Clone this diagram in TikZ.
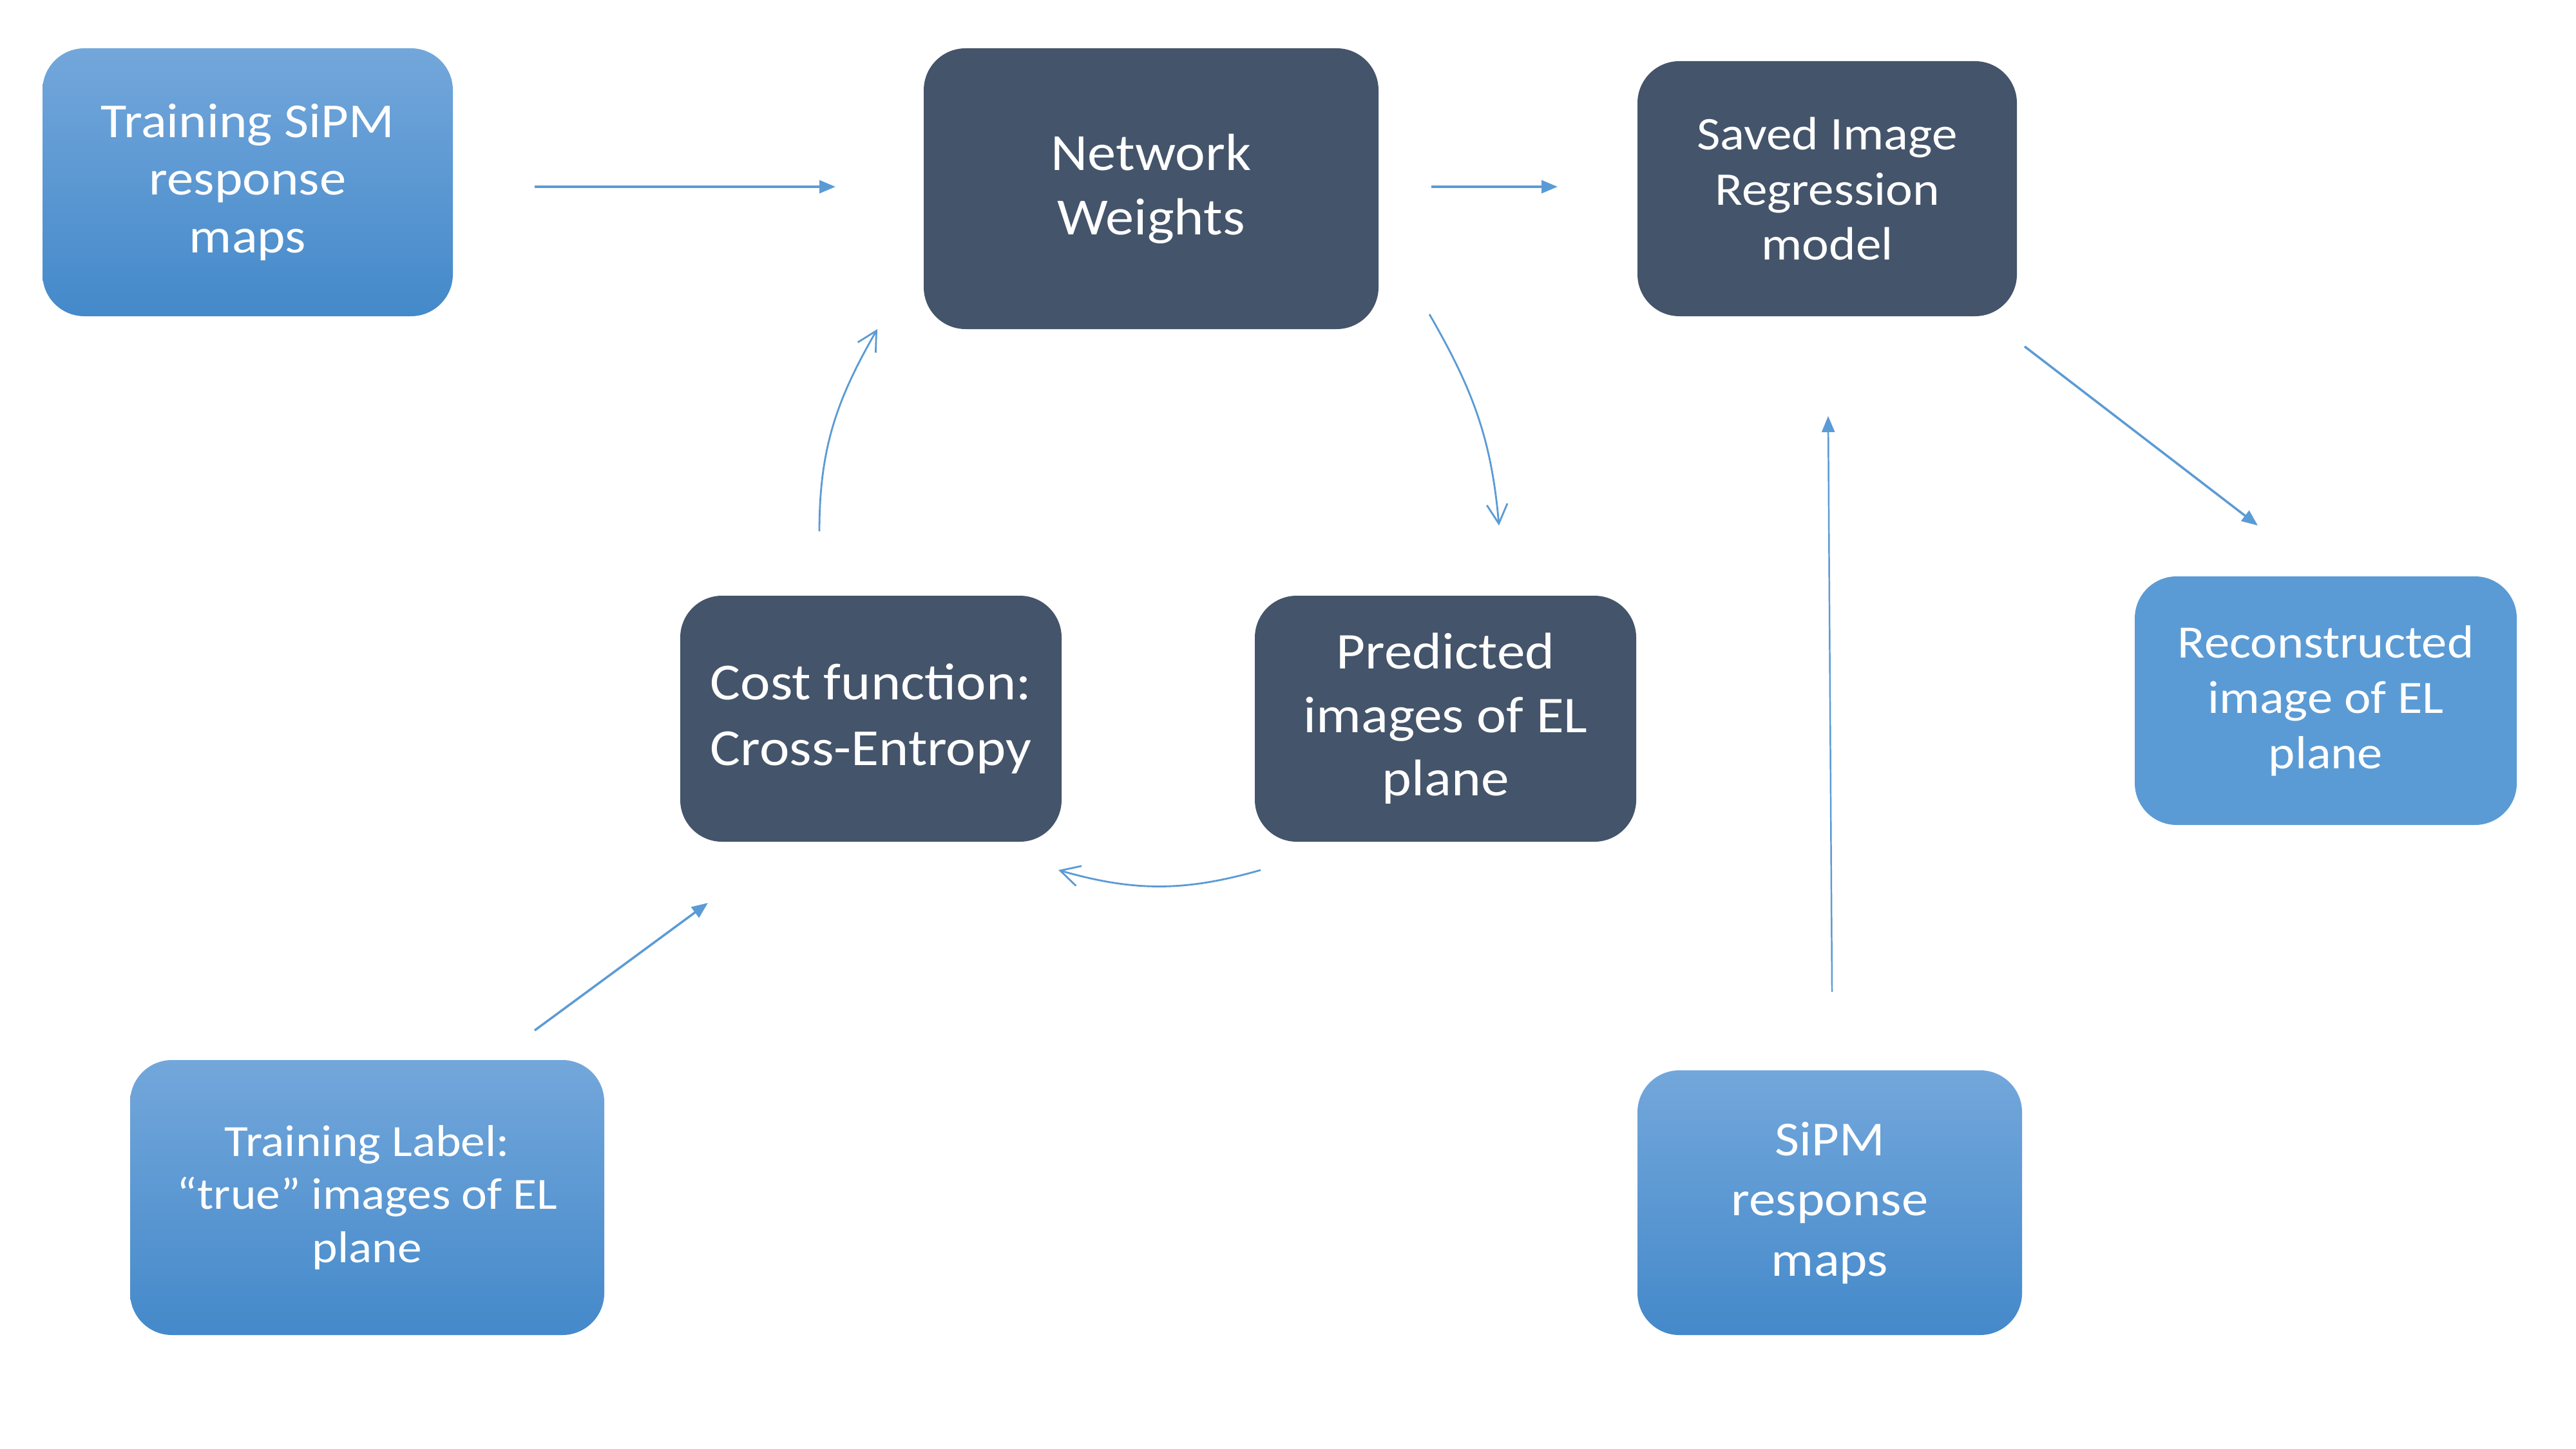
\documentclass[tikz,border=0pt]{standalone}
\usepackage{fontspec}
\setmainfont{Carlito}[FakeStretch=1.09]
\usepackage{tikz}
\usetikzlibrary{arrows.meta,positioning,calc}

\definecolor{darkslate}{RGB}{68,84,106}
\definecolor{accentblue}{RGB}{91,155,213}
\definecolor{gradtop}{RGB}{115,167,219}
\definecolor{gradbottom}{RGB}{68,137,202}

\begin{document}
\begin{tikzpicture}[
                darkbox/.style={rectangle, rounded corners=0.65cm, fill=darkslate, text=white, align=center},
                lightbox/.style={rectangle, rounded corners=0.65cm, top color=gradtop, bottom color=gradbottom, text=white, align=center},
                flatbox/.style={rectangle, rounded corners=0.65cm, fill=accentblue, text=white, align=center},
                flow/.style={draw=accentblue, line width=1pt, -{Triangle[length=0.25cm, width=0.2cm]}},
                loopflow/.style={draw=accentblue, line width=0.8pt, -{Straight Barb[length=0.3cm, width=0.32cm]}},
            ]
            \fill[white] (0,0) rectangle (39.99,-22.49);
            \useasboundingbox (0,0) rectangle (39.99,-22.49);

            %Nodes
            \node[lightbox, minimum width=6.37cm, minimum height=4.16cm, font={\fontsize{21.6pt}{25.6pt}\selectfont}] (trainmaps)  at (3.845,-2.83)  {Training SiPM\\response\\maps};
            \node[darkbox,  minimum width=7.06cm, minimum height=4.36cm, font={\fontsize{23.1pt}{28.5pt}\selectfont}] (weights)    at (17.87,-2.93)  {Network\\Weights};
            \node[darkbox,  minimum width=5.89cm, minimum height=3.96cm, font={\fontsize{20.7pt}{24.2pt}\selectfont}] (savedmodel) at (28.365,-2.93) {Saved Image\\Regression\\model};
            \node[darkbox,  minimum width=5.92cm, minimum height=3.82cm, font={\fontsize{23pt}{29pt}\selectfont}]     (costfn)     at (13.52,-11.16) {Cost function:\\Cross-Entropy};
            \node[darkbox,  minimum width=5.92cm, minimum height=3.82cm, font={\fontsize{22.8pt}{28pt}\selectfont}]   (predicted)  at (22.44,-11.16) {Predicted\\images of EL\\plane};
            \node[flatbox,  minimum width=5.93cm, minimum height=3.86cm, font={\fontsize{20.5pt}{24.5pt}\selectfont}] (recon)      at (36.105,-10.88) {Reconstructed\\image of EL\\plane};
            \node[lightbox, minimum width=7.36cm, minimum height=4.27cm, font={\fontsize{19.7pt}{23.6pt}\selectfont}] (truelabel)  at (5.70,-18.595) {Training Label:\\“true” images of EL\\plane};
            \node[lightbox, minimum width=5.97cm, minimum height=4.11cm, font={\fontsize{21.6pt}{26.6pt}\selectfont}] (sipmmaps)   at (28.405,-18.675) {SiPM\\response\\maps};

            %Arrow ends
            \coordinate (trainmaps-out)  at (8.30,-2.90);
            \coordinate (weights-in)     at (12.97,-2.90);
            \coordinate (weights-out)    at (22.22,-2.90);
            \coordinate (savedmodel-in)  at (24.18,-2.90);
            \coordinate (weights-down)   at (22.19,-4.88);
            \coordinate (predicted-in)   at (23.27,-8.16);
            \coordinate (predicted-out)  at (19.57,-13.51);
            \coordinate (costfn-in)      at (16.43,-13.51);
            \coordinate (costfn-out)     at (12.72,-8.25);
            \coordinate (weights-up)     at (13.62,-5.11);
            \coordinate (truelabel-out)  at (8.30,-16.00);
            \coordinate (costfn-below)   at (10.99,-14.02);
            \coordinate (sipmmaps-out)   at (28.44,-15.40);
            \coordinate (savedmodel-up)  at (28.38,-6.46);
            \coordinate (savedmodel-out) at (31.43,-5.38);
            \coordinate (recon-in)       at (35.05,-8.16);

            %Lines
            \draw[flow] (trainmaps-out) -- (weights-in);
            \draw[flow] (weights-out) -- (savedmodel-in);
            \draw[loopflow] (weights-down) to[out=-60, in=95] (predicted-in);
            \draw[loopflow] (predicted-out) to[out=196, in=-16] (costfn-in);
            \draw[loopflow] (costfn-out) to[out=90, in=-120] (weights-up);
            \draw[flow] (truelabel-out) -- (costfn-below);
            \draw[flow, line width=0.7pt] (sipmmaps-out) -- (savedmodel-up);
            \draw[flow] (savedmodel-out) -- (recon-in);
        \end{tikzpicture}
\end{document}
